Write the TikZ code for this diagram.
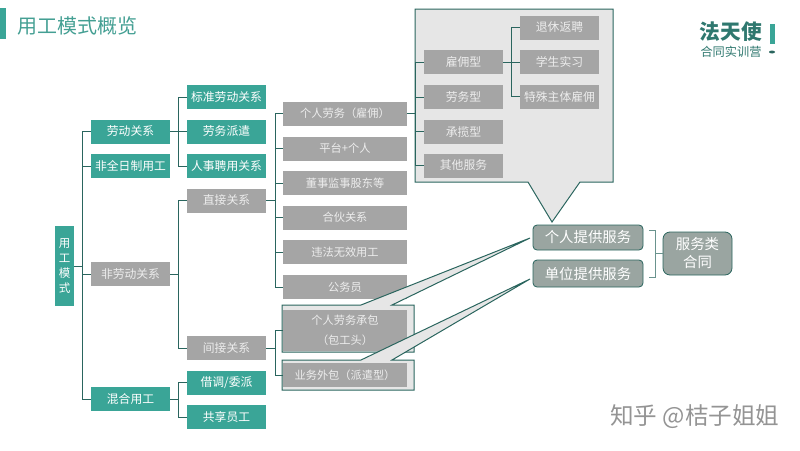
\documentclass[tikz,border=0pt]{standalone}
\usepackage{fontspec}
\setmainfont{Noto Sans CJK SC}
\definecolor{tealbox}{HTML}{3AA597}
\definecolor{graybox}{HTML}{A5A5A5}
\definecolor{callfill}{HTML}{E6E6E6}
\definecolor{treeline}{HTML}{2A655E}
\definecolor{roundbox}{HTML}{9AA5A1}
\definecolor{plaintxt}{HTML}{EDEDED}
\tikzset{
  boxbase/.style={inner sep=0pt, minimum width=79pt, minimum height=24pt, text=white, font=\fontsize{11.8}{13}\selectfont},
  tbox/.style={boxbase, fill=tealbox},
  gbox/.style={boxbase, fill=graybox, text=plaintxt},
  wbox/.style={gbox, minimum width=124pt, font=\fontsize{11.2}{13}\selectfont},
  svcbox/.style={boxbase, fill=roundbox, draw=treeline, line width=.8pt, rounded corners=4pt, minimum width=110pt, minimum height=25pt, font=\fontsize{14.4}{17}\selectfont},
  tree/.style={draw=treeline, line width=.8pt},
  callout/.style={fill=callfill, draw=treeline, line width=1pt},
}
\begin{document}
\begin{tikzpicture}[x=1pt, y=-1pt]
  \useasboundingbox (0,0) rectangle (800,450);

  % title
  \fill[tealbox] (0,8) rectangle (6,39);
  \node[anchor=west, inner sep=0pt, text=tealbox!85!gray, font=\fontsize{20}{22}\selectfont] (title) at (17,26) {用工模式概览};

  % logo
  \node[inner sep=0pt, text=treeline!70!tealbox, font=\fontsize{20.7}{22}\selectfont\bfseries] (logoA) at (731,32) {法天使};
  \node[inner sep=0pt, text=treeline!70!tealbox, font=\fontsize{12.2}{13}\selectfont] (logoB) at (731,52) {合同实训营};
  \fill[tealbox] (770,24) rectangle (775,44);
  \fill[treeline] (772,52) ellipse (3 and 1.5);

  % callout of the first branch
  \draw[callout] (415,9) -- (613,9) -- (613,182) -- (580,182) -- (552,222) -- (528,182) -- (415,182) -- cycle;

  % left column
  \node[tbox, minimum width=19pt, minimum height=80pt, align=center, font=\fontsize{11.5}{15}\selectfont] (root) at (64.5,266) {用\\工\\模\\式};
  \node[tbox]  (laodong)  at (130.5,131.5) {劳动关系};
  \node[tbox]  (feiquan)  at (130.5,166)   {非全日制用工};
  \node[gbox]  (feilao)   at (130.5,274)   {非劳动关系};
  \node[tbox]  (hunhe)    at (130.5,399)   {混合用工};

  \node[tbox]  (biaozhun) at (226.5,97)    {标准劳动关系};
  \node[tbox]  (paiqian)  at (226.5,131.5) {劳务派遣};
  \node[tbox]  (renshi)   at (226.5,166)   {人事聘用关系};
  \node[gbox]  (zhijie)   at (226.5,200.5) {直接关系};
  \node[gbox]  (jianjie)  at (226.5,348)   {间接关系};
  \node[tbox]  (jiediao)  at (226.5,382.5) {借调/委派};
  \node[tbox]  (gongxiang) at (226.5,417)  {共享员工};

  \node[wbox]  (geren)    at (345,113.5)   {个人劳务（雇佣）};
  \node[wbox]  (pingtai)  at (345,148.5)   {平台+个人};
  \node[wbox]  (dongshi)  at (345,183)     {董事监事股东等};
  \node[wbox]  (hehuo)    at (345,217.5)   {合伙关系};
  \node[wbox]  (weifa)    at (345,252)     {违法无效用工};
  \node[wbox]  (gongwu)   at (345,287)     {公务员};

  % inside the callout
  \node[gbox]  (guyong)   at (463.5,62)    {雇佣型};
  \node[gbox]  (laowu)    at (463.5,97)    {劳务型};
  \node[gbox]  (chenglan) at (463.5,131.5) {承揽型};
  \node[gbox]  (qita)     at (463.5,165.5) {其他服务};
  \node[gbox]  (tuixiu)   at (559.5,27.5)  {退休返聘};
  \node[gbox]  (xuesheng) at (559.5,62)    {学生实习};
  \node[gbox]  (teshu)    at (559.5,96.5)  {特殊主体雇佣};

  % the two outsourced boxes with their tails
  \draw[callout] (282,305) -- (361,305) -- (530,238) -- (392,305) -- (414,305) -- (414,352) -- (282,352) -- cycle;
  \node[wbox, minimum height=41pt, align=center, font=\fontsize{11.2}{20}\selectfont] (chengbao) at (345,330.5) {个人劳务承包\\（包工头）};
  \draw[callout] (282,360) -- (361,360) -- (530,279) -- (392,360) -- (414,360) -- (414,390) -- (282,390) -- cycle;
  \node[wbox] (waibao)    at (345,375)     {业务外包（派遣型）};

  % right side
  \node[svcbox] (gerenfw) at (588,237.5) {个人提供服务};
  \node[svcbox, minimum height=27pt] (danwei) at (588,273.5) {单位提供服务};
  \node[svcbox, rounded corners=7pt, minimum width=69pt, minimum height=43pt, align=center, font=\fontsize{14.4}{18}\selectfont] (hetong) at (697.5,253.5) {服务类\\合同};

  % tree lines
  \draw[tree] (root.east) -- ++(8,0) |- (laodong.west);
  \draw[tree] (root.east) -- ++(8,0) |- (feiquan.west);
  \draw[tree] (root.east) -- ++(8,0) |- (feilao.west);
  \draw[tree] (root.east) -- ++(8,0) |- (hunhe.west);

  \draw[tree] (laodong.east) -- ++(8,0) |- (biaozhun.west);
  \draw[tree] (laodong.east) -- (paiqian.west);
  \draw[tree] (laodong.east) -- ++(8,0) |- (renshi.west);
  \draw[tree] (feilao.east) -- ++(8,0) |- (zhijie.west);
  \draw[tree] (feilao.east) -- ++(8,0) |- (jianjie.west);
  \draw[tree] (hunhe.east) -- ++(8,0) |- (jiediao.west);
  \draw[tree] (hunhe.east) -- ++(8,0) |- (gongxiang.west);

  \draw[tree] (zhijie.east) -- ++(9,0) |- (geren.west);
  \draw[tree] (zhijie.east) -- ++(9,0) |- (pingtai.west);
  \draw[tree] (zhijie.east) -- ++(9,0) |- (dongshi.west);
  \draw[tree] (zhijie.east) -- ++(9,0) |- (hehuo.west);
  \draw[tree] (zhijie.east) -- ++(9,0) |- (weifa.west);
  \draw[tree] (zhijie.east) -- ++(9,0) |- (gongwu.west);
  \draw[tree] (jianjie.east) -- ++(9,0) |- (chengbao.west);
  \draw[tree] (jianjie.east) -- ++(9,0) |- (waibao.west);

  \draw[tree] (geren.east) -- ++(8,0) |- (guyong.west);
  \draw[tree] (geren.east) -- ++(8,0) |- (laowu.west);
  \draw[tree] (geren.east) -- ++(8,0) |- (chenglan.west);
  \draw[tree] (geren.east) -- ++(8,0) |- (qita.west);

  \draw[tree] (guyong.east) -- ++(8,0) |- (tuixiu.west);
  \draw[tree] (guyong.east) -- (xuesheng.west);
  \draw[tree] (guyong.east) -- ++(8,0) |- (teshu.west);

  % bracket in front of the contract box
  \coordinate (brTop) at (649,230);
  \coordinate (brBot) at (649,277);
  \coordinate (brMid) at (655,253.5);
  \draw[tree, draw=treeline!70] (brTop) -- ++(6,0) -- ++(0,47) -- (brBot);
  \draw[tree, draw=treeline!70] (brMid) -- (hetong.west);

  % watermark
  \node[anchor=west, inner sep=0pt, text=black!42, font=\fontsize{23.6}{26}\selectfont] (mark) at (610,417) {知乎 @桔子姐姐};
\end{tikzpicture}
\end{document}
